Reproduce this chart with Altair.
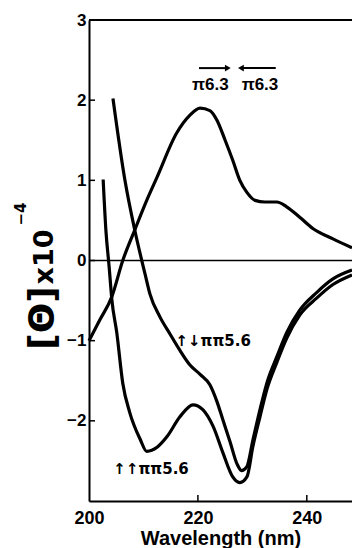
import altair as alt
import pandas as pd

# --- data ---
pi63_nm  = [200.0, 202.0, 204.2, 206.2, 208.4, 210.6, 212.5, 216.1, 218.5, 220.4, 222.2, 223.5, 225.0, 226.4, 227.7, 229.0, 230.5, 232.3, 234.5, 236.3, 238.7, 241.1, 244.8, 248.3]
pi63_val = [-1.00, -0.74, -0.45, 0.00, 0.38, 0.75, 1.04, 1.59, 1.81, 1.90, 1.87, 1.75, 1.50, 1.25, 1.00, 0.85, 0.75, 0.73, 0.73, 0.67, 0.54, 0.40, 0.27, 0.16]

ud_nm  = [204.4, 206.6, 208.4, 210.3, 211.2, 213.0, 214.9, 216.5, 218.5, 220.4, 222.2, 223.5, 224.6, 225.9, 227.2, 228.0, 229.0, 230.1, 231.4, 232.7, 234.5, 236.3, 238.7, 241.8, 244.8, 248.3]
ud_val = [2.02, 1.00, 0.38, -0.17, -0.42, -0.70, -0.92, -1.10, -1.30, -1.42, -1.55, -1.76, -1.99, -2.26, -2.54, -2.62, -2.57, -2.24, -1.86, -1.52, -1.20, -0.90, -0.62, -0.40, -0.23, -0.12]

uu_nm  = [202.6, 203.1, 203.7, 204.2, 205.1, 206.2, 207.5, 209.4, 210.6, 212.5, 214.3, 216.7, 219.1, 220.9, 222.8, 224.6, 226.4, 227.7, 229.0, 230.1, 231.4, 232.7, 234.5, 236.3, 238.7, 241.8, 244.8, 248.3]
uu_val = [1.01, 0.38, -0.08, -0.49, -0.90, -1.53, -1.90, -2.23, -2.38, -2.33, -2.20, -1.95, -1.80, -1.86, -2.07, -2.40, -2.70, -2.77, -2.70, -2.32, -1.95, -1.60, -1.27, -0.97, -0.68, -0.47, -0.30, -0.18]

x_ticks = [200, 220, 240]
y_ticks = [-2, -1, 0, 1, 2, 3]

helix_text = ["π6.3", "π6.3"]
helix_nm   = [222.3, 231.4]
helix_val  = [2.19, 2.19]

dimer_text = ["↑↓ππ5.6", "↑↑ππ5.6"]
dimer_nm   = [222.8, 211.4]
dimer_val  = [-1.01, -2.60]

arrow_from = [220.2, 234.3]
arrow_to   = [225.5, 227.9]
arrow_val  = [2.40, 2.40]
arrow_head = ["triangle-right", "triangle-left"]

# --- tables ---
rows = []
for name, xs_, ys_ in [("π6.3", pi63_nm, pi63_val), ("↑↓ππ5.6", ud_nm, ud_val), ("↑↑ππ5.6", uu_nm, uu_val)]:
    for i, (a, b) in enumerate(zip(xs_, ys_)):
        rows.append({"series": name, "i": i, "nm": a, "val": b})
curves = pd.DataFrame(rows)
helix = pd.DataFrame({"t": helix_text, "nm": helix_nm, "val": helix_val})
dimer = pd.DataFrame({"t": dimer_text, "nm": dimer_nm, "val": dimer_val})
arrows = pd.DataFrame({"a": arrow_from, "b": arrow_to, "val": arrow_val, "shape": arrow_head})
yt = pd.DataFrame({"v": y_ticks})
xt = pd.DataFrame({"v": [t for t in x_ticks if t != 200]})

FONT = "Liberation Sans"
xs = alt.Scale(domain=[200, 248.3], nice=False, zero=False)
ys = alt.Scale(domain=[-3, 3], nice=False, zero=False)

base_x = alt.X("nm:Q", scale=xs, axis=alt.Axis(
    values=x_ticks, title="Wavelength (nm)", grid=False, ticks=False, labelFlush=False,
    domainColor="black", domainWidth=2, labelFont=FONT, labelFontSize=18,
    labelFontWeight="bold", labelColor="black", labelPadding=8,
    titleFont=FONT, titleFontSize=20, titleFontWeight="bold", titleColor="black",
    titlePadding=1))
base_y = alt.Y("val:Q", scale=ys, axis=alt.Axis(
    values=y_ticks, title=None, grid=False, ticks=False, format="d",
    domainColor="black", domainWidth=2, labelFont=FONT, labelFontSize=17,
    labelFontWeight="bold", labelColor="black", labelPadding=3))

lines = alt.Chart(curves).mark_line(color="black", strokeWidth=3.2, interpolate="monotone").encode(
    x=base_x, y=base_y, detail="series:N", order="i:Q")

zero = alt.Chart(pd.DataFrame({"val": [0]})).mark_rule(color="black", strokeWidth=1.5).encode(
    y=alt.Y("val:Q", scale=ys), x=alt.value(0), x2=alt.value(263))
top = alt.Chart(pd.DataFrame({"val": [3]})).mark_rule(color="black", strokeWidth=2).encode(
    y=alt.Y("val:Q", scale=ys), x=alt.value(0), x2=alt.value(263))

ytick = alt.Chart(yt).mark_rule(color="black", strokeWidth=1.5).encode(
    y=alt.Y("v:Q", scale=ys), x=alt.value(0), x2=alt.value(6))
xtick = alt.Chart(xt).mark_rule(color="black", strokeWidth=1.5).encode(
    x=alt.X("v:Q", scale=xs), y=alt.value(481), y2=alt.value(475))

txt1 = alt.Chart(helix).mark_text(font=FONT, fontSize=17, fontWeight="bold", color="black").encode(
    x=alt.X("nm:Q", scale=xs), y=alt.Y("val:Q", scale=ys), text="t:N")
txt2 = alt.Chart(dimer).mark_text(font="DejaVu Sans", fontSize=15, fontWeight="bold", color="black").encode(
    x=alt.X("nm:Q", scale=xs), y=alt.Y("val:Q", scale=ys), text="t:N")

shafts = alt.Chart(arrows).mark_rule(color="black", strokeWidth=2).encode(
    x=alt.X("a:Q", scale=xs), x2="b:Q", y=alt.Y("val:Q", scale=ys))
heads = alt.Chart(arrows).mark_point(color="black", filled=True, size=45, opacity=1).encode(
    x=alt.X("b:Q", scale=xs), y=alt.Y("val:Q", scale=ys), shape=alt.Shape("shape:N", scale=None))

yt1 = alt.Chart(pd.DataFrame({"t": ["[Θ]"]})).mark_text(
    font="DejaVu Sans", fontSize=36, fontWeight="bold", angle=270, align="center",
    baseline="middle", color="black").encode(text="t:N", x=alt.value(-46), y=alt.value(298))
yt2 = alt.Chart(pd.DataFrame({"t": ["x10"]})).mark_text(
    font="DejaVu Sans", fontSize=27, fontWeight="bold", angle=270, align="center",
    baseline="middle", color="black").encode(text="t:N", x=alt.value(-44), y=alt.value(237))
yt3 = alt.Chart(pd.DataFrame({"t": ["−4"]})).mark_text(
    font="DejaVu Sans", fontSize=15, fontWeight="bold", angle=270, align="center",
    baseline="middle", color="black").encode(text="t:N", x=alt.value(-68), y=alt.value(194))

chart = alt.layer(lines, zero, top, ytick, xtick, txt1, txt2, shafts, heads, yt1, yt2, yt3).properties(
    width=263, height=481,
    autosize=alt.AutoSizeParams(type="none"),
    padding={"left": 89, "top": 20, "right": 0, "bottom": 47},
).configure_view(stroke=None).configure(background="white")

chart.save("out.html", embed_options={"renderer": "svg", "actions": False})
